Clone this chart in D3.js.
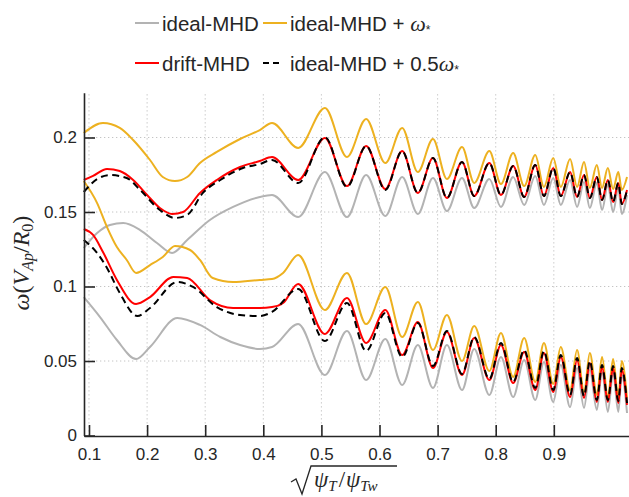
<!DOCTYPE html>
<html><head><meta charset="utf-8">
<script src="https://cdn.jsdelivr.net/npm/d3@7"></script>
<style>
body{margin:0;background:#fff}
svg{display:block}
text{font-family:"Liberation Sans",Arial,Helvetica,sans-serif;fill:#262626}
.math{font-family:"Liberation Serif","DejaVu Serif",serif;font-style:italic}
</style>
</head><body>
<svg id="c" width="629" height="497"></svg>
<script>
// ---------- data ----------
const xTicks = [0.1,0.2,0.3,0.4,0.5,0.6,0.7,0.8,0.9];
const yTicks = [0,0.05,0.1,0.15,0.2];
const yTickLabels = ["0","0.05","0.1","0.15","0.2"];
const seriesNames = ["ideal-MHD","ideal-MHD + ω*","drift-MHD","ideal-MHD + 0.5ω*"];

// shared x positions of the oscillation extrema (x >= 0.46)
const xOsc = [0.460,0.506,0.544,0.577,0.610,0.639,0.666,0.692,0.716,0.742,0.763,0.789,0.809,0.830,0.849,0.868,0.883,0.899,0.912,0.928,0.940,0.952,0.962,0.974,0.983,0.993,1.002,1.011,1.017,1.026];

// ideal-MHD (gray), upper branch
const idealUpLeftX = [0.091,0.114,0.136,0.159,0.188,0.217,0.243,0.269,0.308,0.348,0.394,0.415];
const idealUpLeftY = [0.1258,0.1359,0.1413,0.1426,0.1379,0.1292,0.1225,0.1312,0.1446,0.1534,0.1601,0.1614];
const idealUpOscY  = [0.1466,0.1768,0.1466,0.1748,0.1473,0.1735,0.1487,0.1728,0.1507,0.1728,0.1527,0.1721,0.1534,0.1735,0.1547,0.1742,0.1547,0.1728,0.1547,0.1715,0.1534,0.1701,0.1527,0.1695,0.1513,0.1681,0.1500,0.1661,0.1487,0.1614];
// ideal-MHD (gray), lower branch
const idealLoLeftX = [0.091,0.119,0.148,0.181,0.205,0.252,0.291,0.326,0.360,0.394,0.415];
const idealLoLeftY = [0.0929,0.0795,0.0641,0.0513,0.0594,0.0789,0.0742,0.0661,0.0607,0.0581,0.0594];
const idealLoOscY  = [0.0748,0.0406,0.0701,0.0372,0.0648,0.0339,0.0607,0.0319,0.0607,0.0305,0.0581,0.0272,0.0527,0.0258,0.0507,0.0238,0.0493,0.0225,0.0473,0.0191,0.0453,0.0185,0.0440,0.0171,0.0426,0.0158,0.0419,0.0158,0.0406,0.0151];

// ideal-MHD + w* (orange), upper branch
const starUpLeftX = [0.091,0.124,0.153,0.176,0.205,0.227,0.248,0.269,0.291,0.320,0.360,0.394,0.415];
const starUpLeftY = [0.2030,0.2097,0.2064,0.1983,0.1849,0.1735,0.1708,0.1735,0.1829,0.1903,0.1990,0.2050,0.2097];
const starUpOscY  = [0.1930,0.2198,0.1869,0.2124,0.1829,0.2064,0.1768,0.1990,0.1721,0.1936,0.1695,0.1909,0.1688,0.1896,0.1674,0.1883,0.1668,0.1862,0.1668,0.1856,0.1668,0.1836,0.1661,0.1815,0.1661,0.1795,0.1654,0.1768,0.1648,0.1735];
// ideal-MHD + w* (orange), lower branch
const starLoLeftX = [0.091,0.114,0.131,0.148,0.165,0.181,0.205,0.227,0.248,0.274,0.291,0.313,0.348,0.394,0.415,0.434];
const starLoLeftY = [0.1708,0.1560,0.1399,0.1265,0.1178,0.1091,0.1144,0.1198,0.1272,0.1245,0.1178,0.1057,0.1030,0.1044,0.1050,0.1091];
const starLoOscY  = [0.1211,0.0842,0.1091,0.0748,0.0997,0.0661,0.0896,0.0574,0.0809,0.0500,0.0735,0.0433,0.0688,0.0393,0.0654,0.0359,0.0621,0.0346,0.0594,0.0305,0.0574,0.0292,0.0554,0.0272,0.0527,0.0258,0.0513,0.0258,0.0500,0.0252];

// drift-MHD (red), upper branch
const driftUpLeftX = [0.091,0.107,0.131,0.153,0.176,0.200,0.222,0.243,0.262,0.291,0.320,0.360,0.394,0.415];
const driftUpLeftY = [0.1715,0.1742,0.1789,0.1775,0.1715,0.1614,0.1527,0.1487,0.1500,0.1628,0.1715,0.1802,0.1842,0.1869];
const driftUpOscY  = [0.1715,0.1997,0.1674,0.1943,0.1654,0.1909,0.1628,0.1862,0.1594,0.1836,0.1607,0.1829,0.1614,0.1809,0.1601,0.1815,0.1607,0.1795,0.1607,0.1768,0.1601,0.1748,0.1594,0.1735,0.1581,0.1715,0.1567,0.1695,0.1554,0.1648];
// drift-MHD (red), lower branch
const driftLoLeftX = [0.091,0.107,0.124,0.148,0.181,0.205,0.245,0.269,0.308,0.348,0.394,0.415,0.434];
const driftLoLeftY = [0.1386,0.1346,0.1232,0.1044,0.0883,0.0929,0.1064,0.1057,0.0909,0.0856,0.0856,0.0862,0.0889];
const driftLoOscY  = [0.1017,0.0681,0.0923,0.0621,0.0842,0.0540,0.0762,0.0453,0.0695,0.0406,0.0654,0.0372,0.0607,0.0352,0.0560,0.0305,0.0554,0.0292,0.0527,0.0258,0.0507,0.0252,0.0487,0.0225,0.0460,0.0225,0.0453,0.0218,0.0440,0.0205];

// ideal-MHD + 0.5 w* (black dashed), upper branch
const halfUpLeftX = [0.091,0.114,0.136,0.165,0.188,0.222,0.248,0.269,0.296,0.326,0.365,0.394,0.415];
const halfUpLeftY = [0.1634,0.1721,0.1748,0.1728,0.1648,0.1513,0.1460,0.1480,0.1628,0.1715,0.1795,0.1822,0.1849];
const halfUpOscY  = [0.1695,0.2003,0.1668,0.1943,0.1648,0.1909,0.1628,0.1862,0.1594,0.1836,0.1607,0.1829,0.1614,0.1809,0.1601,0.1815,0.1607,0.1795,0.1607,0.1768,0.1601,0.1748,0.1594,0.1735,0.1581,0.1715,0.1567,0.1695,0.1554,0.1648];
// ideal-MHD + 0.5 w* (black dashed), lower branch
const halfLoLeftX = [0.091,0.114,0.131,0.153,0.183,0.205,0.252,0.279,0.320,0.360,0.394,0.415];
const halfLoLeftY = [0.1312,0.1225,0.1124,0.0956,0.0802,0.0856,0.1030,0.0997,0.0862,0.0809,0.0802,0.0829];
const halfLoOscY  = [0.0983,0.0634,0.0889,0.0567,0.0822,0.0527,0.0755,0.0466,0.0701,0.0413,0.0661,0.0379,0.0621,0.0359,0.0574,0.0319,0.0567,0.0305,0.0540,0.0272,0.0520,0.0265,0.0500,0.0238,0.0473,0.0238,0.0466,0.0232,0.0453,0.0218];

// ---------- chart ----------
const svg = d3.select("#c");
const x = d3.scaleLinear().domain([0.0914, 1.0294]).range([84, 629]);
const y = d3.scaleLinear().domain([0, 0.23]).range([435.5, 92.8]);
const colors = {ideal:"#b3b3b3", star:"#EDB120", drift:"#FF0000", half:"#000000"};

// grid
const grid = svg.append("g");
grid.selectAll("line.vx").data(xTicks).join("line")
  .attr("x1", d => x(d)).attr("x2", d => x(d))
  .attr("y1", y.range()[0]).attr("y2", y.range()[1])
  .attr("stroke", "#c4c4c4").attr("stroke-width", 1).attr("stroke-dasharray", "1.3,2.7");
grid.selectAll("line.hy").data(yTicks.filter(d => d > 0)).join("line")
  .attr("x1", x.range()[0]).attr("x2", x.range()[1])
  .attr("y1", d => y(d)).attr("y2", d => y(d))
  .attr("stroke", "#c4c4c4").attr("stroke-width", 1).attr("stroke-dasharray", "1.3,2.7");

function pts(lx, ly, oy) {
  return lx.map((v, i) => [v, ly[i]]).concat(xOsc.map((v, i) => [v, oy[i]]));
}
const line = d3.line().x(d => x(d[0])).y(d => y(d[1])).curve(d3.curveMonotoneX);

const curves = [
  {c: colors.ideal, d: pts(idealUpLeftX, idealUpLeftY, idealUpOscY)},
  {c: colors.ideal, d: pts(idealLoLeftX, idealLoLeftY, idealLoOscY)},
  {c: colors.star,  d: pts(starUpLeftX, starUpLeftY, starUpOscY)},
  {c: colors.star,  d: pts(starLoLeftX, starLoLeftY, starLoOscY)},
  {c: colors.drift, d: pts(driftUpLeftX, driftUpLeftY, driftUpOscY)},
  {c: colors.drift, d: pts(driftLoLeftX, driftLoLeftY, driftLoOscY)},
  {c: colors.half,  d: pts(halfUpLeftX, halfUpLeftY, halfUpOscY), dash: "7,4.5"},
  {c: colors.half,  d: pts(halfLoLeftX, halfLoLeftY, halfLoOscY), dash: "7,4.5"}
];
svg.append("g").selectAll("path").data(curves).join("path")
  .attr("d", d => line(d.d))
  .attr("fill", "none")
  .attr("stroke", d => d.c)
  .attr("stroke-width", 2)
  .attr("stroke-dasharray", d => d.dash || null);

// axes
const xAxis = d3.axisBottom(x).tickValues(xTicks).tickFormat(d3.format(".1f"))
  .tickSizeInner(-11).tickSizeOuter(0).tickPadding(12);
const yAxis = d3.axisLeft(y).tickValues(yTicks).tickFormat((d, i) => yTickLabels[i])
  .tickSizeInner(-11).tickSizeOuter(0).tickPadding(7);
const gx = svg.append("g").attr("transform", "translate(0,436)").call(xAxis);
const gy = svg.append("g").attr("transform", "translate(84,0)").call(yAxis);
[gx, gy].forEach(g => {
  g.select(".domain").attr("stroke", "#262626").attr("stroke-width", 1.6);
  g.selectAll(".tick line").attr("stroke", "#262626").attr("stroke-width", 1.6);
  g.selectAll(".tick text").attr("fill", "#262626").style("font-size", "17px")
    .style("font-family", "'Liberation Sans',Arial,sans-serif");
});

// x label: sqrt(psi_T / psi_Tw)
svg.append("path")
  .attr("d", "M291,482 L296,479 L302,494 L311,466 L397,466")
  .attr("fill", "none").attr("stroke", "#262626").attr("stroke-width", 1.3);
const xl = svg.append("text").attr("x", 314).attr("y", 487).attr("class", "math").style("font-size", "23px");
xl.append("tspan").text("ψ");
xl.append("tspan").text("T").style("font-size", "15px").attr("dy", 4);
xl.append("tspan").text("/").style("font-style", "normal").attr("dy", -4).attr("dx", 2);
xl.append("tspan").text("ψ").attr("dx", 1);
xl.append("tspan").text("Tw").style("font-size", "15px").attr("dy", 4);

// y label: omega(V_Ap/R_0)
const yl = svg.append("text").attr("transform", "translate(29,263) rotate(-90)")
  .attr("text-anchor", "middle").attr("class", "math").style("font-size", "24px");
yl.append("tspan").text("ω");
yl.append("tspan").text("(").style("font-style", "normal");
yl.append("tspan").text("V");
yl.append("tspan").text("Ap").style("font-size", "16px").attr("dy", 4);
yl.append("tspan").text("/").style("font-style", "normal").attr("dy", -4);
yl.append("tspan").text("R");
yl.append("tspan").text("0").style("font-size", "16px").style("font-style", "normal").attr("dy", 4);
yl.append("tspan").text(")").style("font-style", "normal").attr("dy", -4);

// legend
const leg = svg.append("g");
const legItems = [
  {name: seriesNames[0], c: colors.ideal, lx: 135, ly: 23, len: 24, tx: 162},
  {name: seriesNames[1], c: colors.star,  lx: 263, ly: 23, len: 24, tx: 290},
  {name: seriesNames[2], c: colors.drift, lx: 135, ly: 63, len: 24, tx: 162},
  {name: seriesNames[3], c: colors.half,  lx: 263, ly: 63, len: 16, tx: 290, dash: "6,4"}
];
legItems.forEach(it => {
  leg.append("line").attr("x1", it.lx).attr("x2", it.lx + it.len).attr("y1", it.ly).attr("y2", it.ly)
    .attr("stroke", it.c).attr("stroke-width", 2).attr("stroke-dasharray", it.dash || null);
  const t = leg.append("text").attr("x", it.tx).attr("y", it.ly + 8).style("font-size", "20.5px");
  const m = it.name.match(/^(.*?)(ω)\*$/);
  if (m) {
    t.append("tspan").text(m[1]);
    t.append("tspan").text("ω").attr("class", "math").style("font-size", "22px");
    t.append("tspan").text("*").style("font-size", "12px").attr("dy", 3);
  } else {
    t.text(it.name);
  }
});
</script>
</body></html>
